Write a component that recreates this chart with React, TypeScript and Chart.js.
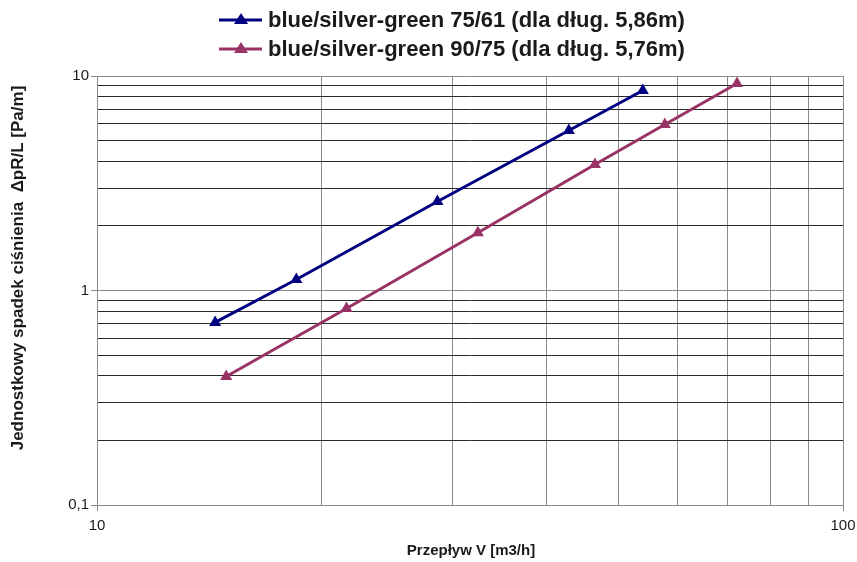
import React, { useEffect, useRef } from "react";
import { Chart, registerables } from "chart.js";

Chart.register(...registerables);

const seriesNames = [
  "blue/silver-green 75/61 (dla dług. 5,86m)",
  "blue/silver-green 90/75 (dla dług. 5,76m)",
];
const seriesColors = ["#000080", "#993366"];

const flow1 = [14.4, 18.5, 28.6, 42.9, 53.9];
const drop1 = [0.71, 1.125, 2.6, 5.57, 8.56];

const flow2 = [14.9, 21.6, 32.4, 46.5, 57.7, 72.1];
const drop2 = [0.397, 0.824, 1.86, 3.87, 5.94, 9.23];

const xTicks = [10, 20, 30, 40, 50, 60, 70, 80, 90, 100];
const yTicks = [0.1, 0.2, 0.3, 0.4, 0.5, 0.6, 0.7, 0.8, 0.9, 1, 2, 3, 4, 5, 6, 7, 8, 9, 10];

const xTitle = "Przepływ V [m3/h]";
const yTitle = "Jednostkowy spadek ciśnienia  ΔpR/L [Pa/m]";

const isDecade = (v: number) => Math.abs(Math.log10(v) - Math.round(Math.log10(v))) < 1e-6;
const fmt = (v: number) => String(v).replace(".", ",");

const FONT = "'Liberation Sans', Arial, sans-serif";

const customPlugin = {
  id: "customText",
  afterDraw(chart: any) {
    const ctx = chart.ctx;
    ctx.save();
    const rows = [20, 49];
    seriesNames.forEach((name, i) => {
      const y = rows[i];
      ctx.strokeStyle = seriesColors[i];
      ctx.lineWidth = 3;
      ctx.beginPath();
      ctx.moveTo(219, y);
      ctx.lineTo(262, y);
      ctx.stroke();
      ctx.fillStyle = seriesColors[i];
      ctx.beginPath();
      ctx.moveTo(241, y - 7);
      ctx.lineTo(248, y + 4);
      ctx.lineTo(234, y + 4);
      ctx.closePath();
      ctx.fill();
      ctx.fillStyle = "#1a1a1a";
      ctx.font = `bold 22px ${FONT}`;
      ctx.textAlign = "left";
      ctx.textBaseline = "middle";
      ctx.fillText(name, 268, y + 1);
    });
    ctx.font = `bold 15px ${FONT}`;
    ctx.fillStyle = "#1a1a1a";
    ctx.textAlign = "center";
    ctx.textBaseline = "middle";
    ctx.fillText(xTitle, 471, 551);
    ctx.translate(18, 268);
    ctx.rotate(-Math.PI / 2);
    ctx.font = `bold 17px ${FONT}`;
    ctx.fillText(yTitle, 0, 0);
    ctx.restore();
  },
};

export default function App() {
  const ref = useRef<HTMLCanvasElement | null>(null);
  useEffect(() => {
    if (!ref.current) return;
    const chart = new Chart(ref.current, {
      type: "line",
      data: {
        datasets: [
          {
            label: seriesNames[0],
            data: flow1.map((x, i) => ({ x, y: drop1[i] })),
            borderColor: seriesColors[0],
            backgroundColor: seriesColors[0],
            borderWidth: 3,
            pointStyle: "triangle",
            pointRadius: 7,
            pointBorderWidth: 0,
          },
          {
            label: seriesNames[1],
            data: flow2.map((x, i) => ({ x, y: drop2[i] })),
            borderColor: seriesColors[1],
            backgroundColor: seriesColors[1],
            borderWidth: 3,
            pointStyle: "triangle",
            pointRadius: 7,
            pointBorderWidth: 0,
          },
        ],
      },
      options: {
        animation: false,
        responsive: true,
        maintainAspectRatio: false,
        layout: { padding: { top: 76, right: 14, left: 0, bottom: 0 } },
        plugins: { legend: { display: false }, tooltip: { enabled: false } },
        scales: {
          x: {
            type: "logarithmic",
            min: 10,
            max: 100,
            afterBuildTicks: (s: any) => {
              s.ticks = xTicks.map((v) => ({ value: v }));
            },
            afterFit: (s: any) => {
              s.height = 57;
              s.paddingLeft = 0;
              s.paddingRight = 0;
            },
            grid: {
              color: "#8a8a8a",
              lineWidth: 1,
              tickLength: 6,
              tickColor: (c: any) => (c.tick && isDecade(c.tick.value) ? "#8a8a8a" : "rgba(0,0,0,0)"),
            },
            border: { color: "#8a8a8a" },
            ticks: {
              autoSkip: false,
              maxRotation: 0,
              color: "#1a1a1a",
              font: { family: FONT, size: 15 },
              padding: 6,
              callback: (v: any) => (isDecade(Number(v)) ? fmt(Number(v)) : ""),
            },
          },
          y: {
            type: "logarithmic",
            min: 0.1,
            max: 10,
            afterBuildTicks: (s: any) => {
              s.ticks = yTicks.map((v) => ({ value: v }));
            },
            afterFit: (s: any) => {
              s.width = 97;
              s.paddingTop = 0;
              s.paddingBottom = 0;
            },
            grid: {
              color: (c: any) => (c.tick && isDecade(c.tick.value) ? "#8a8a8a" : "#2a2a2a"),
              lineWidth: 1,
              tickLength: 6,
              tickColor: (c: any) => (c.tick && isDecade(c.tick.value) ? "#8a8a8a" : "rgba(0,0,0,0)"),
            },
            border: { color: "#8a8a8a" },
            ticks: {
              autoSkip: false,
              color: "#1a1a1a",
              font: { family: FONT, size: 15 },
              padding: 2,
              callback: (v: any) => (isDecade(Number(v)) ? fmt(Number(v)) : ""),
            },
          },
        },
      },
      plugins: [customPlugin],
    } as any);
    return () => chart.destroy();
  }, []);
  return (
    <div style={{ position: "fixed", left: 0, top: 0, width: 857, height: 562 }}>
      <canvas ref={ref} />
    </div>
  );
}
